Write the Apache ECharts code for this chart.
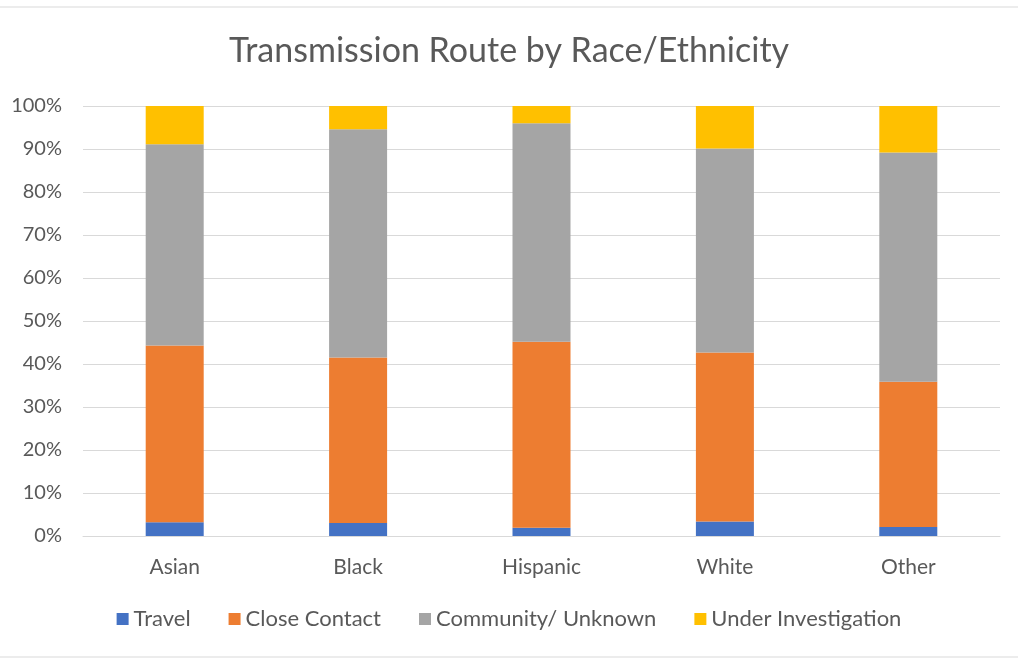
<!DOCTYPE html>
<html>
<head>
<meta charset="utf-8">
<script src="https://cdn.jsdelivr.net/npm/echarts@6/dist/echarts.min.js"></script>
<style>
  html, body { margin: 0; padding: 0; background: #fff; }
  #main { width: 1018px; height: 660px; }
</style>
</head>
<body>
<div id="main"></div>
<script>
  // categories
  var races = ['Asian', 'Black', 'Hispanic', 'White', 'Other'];
  // percent of cases per race
  var travel = [3.2, 3.0, 1.9, 3.4, 2.1];
  var closeContact = [41.1, 38.5, 43.3, 39.3, 33.8];
  var community = [46.8, 53.1, 50.8, 47.4, 53.3];
  var underInvestigation = [8.9, 5.4, 4.0, 9.9, 10.8];

  var txt = '#595959';
  var font = 'Lato';

  function bar(name, data, color) {
    return {
      name: name,
      type: 'bar',
      stack: 'total',
      barWidth: 58,
      itemStyle: { color: color },
      emphasis: { disabled: true },
      data: data
    };
  }

  var option = {
    animation: false,
    textStyle: { fontFamily: font },
    graphic: [{
      type: 'rect',
      shape: { x: -5, y: 7, width: 1028, height: 650 },
      style: { fill: 'none', stroke: '#d9d9d9', lineWidth: 1 }
    }],
    title: {
      text: 'Transmission Route by Race/Ethnicity',
      left: 'center',
      top: 29,
      textStyle: { color: txt, fontSize: 34, fontWeight: 'normal', fontFamily: font }
    },
    legend: {
      bottom: 25,
      left: 'center',
      itemWidth: 12,
      itemHeight: 12,
      itemGap: 38,
      icon: 'rect',
      textStyle: { color: txt, fontSize: 22, fontFamily: font },
      data: ['Travel', 'Close Contact', 'Community/ Unknown', 'Under Investigation']
    },
    grid: { left: 83, right: 18, top: 106, bottom: 124 },
    xAxis: {
      type: 'category',
      data: races,
      axisLine: { lineStyle: { color: '#d9d9d9', width: 1 } },
      axisTick: { show: false },
      axisLabel: { color: txt, fontSize: 21, margin: 21, fontFamily: font }
    },
    yAxis: {
      type: 'value',
      min: 0,
      max: 100,
      interval: 10,
      axisLine: { show: false },
      axisTick: { show: false },
      splitLine: { lineStyle: { color: '#d9d9d9', width: 1 } },
      axisLabel: { color: txt, fontSize: 20, margin: 21, formatter: '{value}%', fontFamily: font }
    },
    series: [
      bar('Travel', travel, '#4472C4'),
      bar('Close Contact', closeContact, '#ED7D31'),
      bar('Community/ Unknown', community, '#A5A5A5'),
      bar('Under Investigation', underInvestigation, '#FFC000')
    ]
  };

  var myChart = echarts.init(document.getElementById('main'));
  myChart.setOption(option);
</script>
</body>
</html>
